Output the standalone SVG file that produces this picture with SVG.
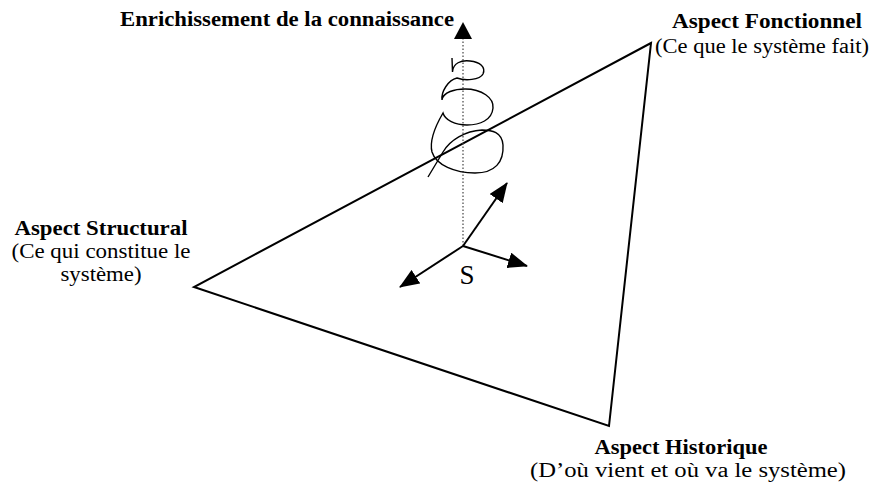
<svg xmlns="http://www.w3.org/2000/svg" width="877" height="483" viewBox="0 0 877 483">
<style>
.t{font-family:"Liberation Serif","Times New Roman",serif;fill:#000;text-anchor:middle}
.b{font-weight:bold;font-size:20px}
.r{font-size:20px}
.edge{stroke:#000;stroke-width:2;fill:none}
.arr{stroke:#000;stroke-width:2;fill:none;marker-end:url(#ah)}
</style>
<defs>
<marker id="ah" markerUnits="userSpaceOnUse" markerWidth="22" markerHeight="16" refX="19" refY="8" orient="auto">
<path d="M0,0 L20,8 L0,16 z" fill="#000"/>
</marker>
</defs>
<rect width="877" height="483" fill="#fff"/>
<g id="triangle">
<path class="edge" d="M651,43 L194,287 L609,426 Z" stroke-linejoin="miter"/>
</g>
<g id="connectors">
<line x1="463" y1="246" x2="463" y2="38" stroke="#444" stroke-width="1.2" stroke-dasharray="1.5,2"/>
<path d="M454,39 L463,22 L472,39 Z" fill="#000"/>
<line class="arr" x1="463" y1="246" x2="507" y2="183"/>
<line class="arr" x1="463" y1="246" x2="527" y2="266"/>
<line class="arr" x1="463" y1="246" x2="400" y2="287"/>
<path id="spiral" fill="none" stroke="#000" stroke-width="1.4" d="M452,58 L452.5,72 C453,63 461,60 470,61 C480,62 486,67 483,74 C480,80 465,81 457,78 C448,80 441,92 442,100 C443,92 455,89 465,89 C482,89 494,98 493,108 C492,120 480,125 467,125 C455,125 445,120 443,113 C436,125 429,140 432,152 C436,165 455,173 475,173 C495,173 504,162 503,145 C502,132 492,130 482,130 C465,131 450,140 443,152 L428,177"/>
</g>
<g id="node-enrichissement">
<text class="t b" x="287" y="26" textLength="334" lengthAdjust="spacingAndGlyphs">Enrichissement de la connaissance</text>
</g>
<g id="node-fonctionnel">
<text class="t b" x="767" y="28" textLength="190" lengthAdjust="spacingAndGlyphs">Aspect Fonctionnel</text>
<text class="t r" x="762" y="53" textLength="214" lengthAdjust="spacingAndGlyphs">(Ce que le système fait)</text>
</g>
<g id="node-structural">
<text class="t b" x="101" y="235" textLength="173" lengthAdjust="spacingAndGlyphs">Aspect Structural</text>
<text class="t r" x="101" y="258" textLength="179" lengthAdjust="spacingAndGlyphs">(Ce qui constitue le</text>
<text class="t r" x="101" y="281" textLength="81" lengthAdjust="spacingAndGlyphs">système)</text>
</g>
<g id="node-historique">
<text class="t b" x="681" y="454" textLength="173" lengthAdjust="spacingAndGlyphs">Aspect Historique</text>
<text class="t r" x="688" y="477" textLength="316" lengthAdjust="spacingAndGlyphs">(D’où vient et où va le système)</text>
</g>
<g id="node-s">
<text class="t" x="467" y="284" font-size="27">S</text>
</g>
</svg>
